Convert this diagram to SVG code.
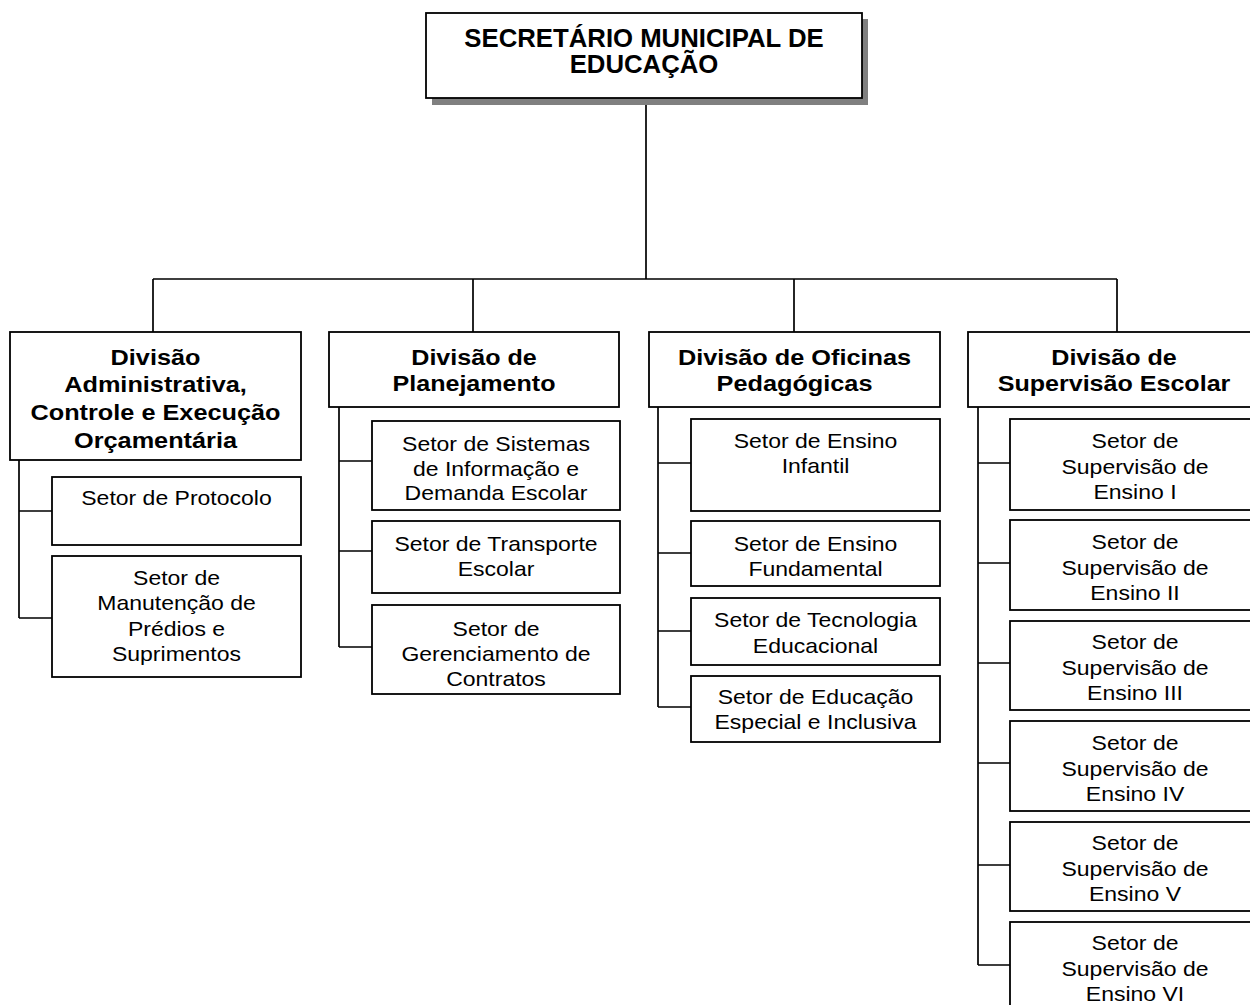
<svg xmlns="http://www.w3.org/2000/svg" width="1250" height="1005" viewBox="0 0 1250 1005">
<style>
.bx{fill:#fff;stroke:#000;stroke-width:1.8}
.sh{fill:#808080;stroke:none}
.ln{fill:none;stroke:#000;stroke-width:1.7}
text{font-family:"Liberation Sans",Arial,sans-serif;text-anchor:middle;fill:#000}
.top{font-size:25px;font-weight:bold}
.dv{font-size:22px;font-weight:bold}
.st{font-size:20px}
</style>
<rect width="1250" height="1005" fill="#fff"/>
<g id="connectors">
<path class="ln" d="M646 98V279M153 279H1117M153 279V332M473 279V332M794 279V332M1117 279V332"/>
<path class="ln" d="M19 460V618M19 511H52M19 618H52"/>
<path class="ln" d="M339 407V647M339 461H372M339 551H372M339 647H372"/>
<path class="ln" d="M658 407V707M658 463H691M658 553H691M658 631H691M658 707H691"/>
<path class="ln" d="M978 407V965M978 463H1010M978 563H1010M978 663H1010M978 763H1010M978 865H1010M978 965H1010"/>
</g>
<g id="secretario">
<rect class="sh" x="432" y="19" width="436" height="86"/>
<rect class="bx" x="426" y="13" width="436" height="85"/>
<g transform="translate(644,0) scale(1.03,1)"><text class="top"><tspan x="0" y="47">SECRETÁRIO MUNICIPAL DE</tspan><tspan x="0" y="73">EDUCAÇÃO</tspan></text></g>
</g>
<g id="div-admin">
<rect class="bx" x="10" y="332" width="291" height="128"/>
<g transform="translate(155.5,0) scale(1.15,1)"><text class="dv"><tspan x="0" y="365">Divisão</tspan><tspan x="0" y="392">Administrativa,</tspan><tspan x="0" y="420">Controle e Execução</tspan><tspan x="0" y="448">Orçamentária</tspan></text></g>
</g>
<g id="setor-protocolo">
<rect class="bx" x="52" y="477" width="249" height="68"/>
<g transform="translate(176.5,0) scale(1.15,1)"><text class="st"><tspan x="0" y="505">Setor de Protocolo</tspan></text></g>
</g>
<g id="setor-manutencao">
<rect class="bx" x="52" y="556" width="249" height="121"/>
<g transform="translate(176.5,0) scale(1.15,1)"><text class="st"><tspan x="0" y="585">Setor de</tspan><tspan x="0" y="610">Manutenção de</tspan><tspan x="0" y="636">Prédios e</tspan><tspan x="0" y="661">Suprimentos</tspan></text></g>
</g>
<g id="div-planejamento">
<rect class="bx" x="329" y="332" width="290" height="75"/>
<g transform="translate(474,0) scale(1.14,1)"><text class="dv"><tspan x="0" y="365">Divisão de</tspan><tspan x="0" y="391">Planejamento</tspan></text></g>
</g>
<g id="setor-sistemas">
<rect class="bx" x="372" y="421" width="248" height="89"/>
<g transform="translate(496,0) scale(1.15,1)"><text class="st"><tspan x="0" y="451">Setor de Sistemas</tspan><tspan x="0" y="476">de Informação e</tspan><tspan x="0" y="500">Demanda Escolar</tspan></text></g>
</g>
<g id="setor-transporte">
<rect class="bx" x="372" y="521" width="248" height="72"/>
<g transform="translate(496,0) scale(1.15,1)"><text class="st"><tspan x="0" y="551">Setor de Transporte</tspan><tspan x="0" y="576">Escolar</tspan></text></g>
</g>
<g id="setor-contratos">
<rect class="bx" x="372" y="605" width="248" height="89"/>
<g transform="translate(496,0) scale(1.15,1)"><text class="st"><tspan x="0" y="636">Setor de</tspan><tspan x="0" y="661">Gerenciamento de</tspan><tspan x="0" y="686">Contratos</tspan></text></g>
</g>
<g id="div-oficinas">
<rect class="bx" x="649" y="332" width="291" height="75"/>
<g transform="translate(794.5,0) scale(1.15,1)"><text class="dv"><tspan x="0" y="365">Divisão de Oficinas</tspan><tspan x="0" y="391">Pedagógicas</tspan></text></g>
</g>
<g id="setor-infantil">
<rect class="bx" x="691" y="419" width="249" height="92"/>
<g transform="translate(815.5,0) scale(1.15,1)"><text class="st"><tspan x="0" y="448">Setor de Ensino</tspan><tspan x="0" y="473">Infantil</tspan></text></g>
</g>
<g id="setor-fundamental">
<rect class="bx" x="691" y="521" width="249" height="65"/>
<g transform="translate(815.5,0) scale(1.15,1)"><text class="st"><tspan x="0" y="551">Setor de Ensino</tspan><tspan x="0" y="576">Fundamental</tspan></text></g>
</g>
<g id="setor-tecnologia">
<rect class="bx" x="691" y="598" width="249" height="67"/>
<g transform="translate(815.5,0) scale(1.15,1)"><text class="st"><tspan x="0" y="627">Setor de Tecnologia</tspan><tspan x="0" y="653">Educacional</tspan></text></g>
</g>
<g id="setor-especial">
<rect class="bx" x="691" y="676" width="249" height="66"/>
<g transform="translate(815.5,0) scale(1.15,1)"><text class="st"><tspan x="0" y="704">Setor de Educação</tspan><tspan x="0" y="729">Especial e Inclusiva</tspan></text></g>
</g>
<g id="div-supervisao">
<rect class="bx" x="968" y="332" width="292" height="75"/>
<g transform="translate(1114,0) scale(1.14,1)"><text class="dv"><tspan x="0" y="365">Divisão de</tspan><tspan x="0" y="391">Supervisão Escolar</tspan></text></g>
</g>
<g id="setor-ensino-1">
<rect class="bx" x="1010" y="419" width="250" height="91"/>
<g transform="translate(1135,0) scale(1.15,1)"><text class="st"><tspan x="0" y="448">Setor de</tspan><tspan x="0" y="474">Supervisão de</tspan><tspan x="0" y="499">Ensino I</tspan></text></g>
</g>
<g id="setor-ensino-2">
<rect class="bx" x="1010" y="520" width="250" height="90"/>
<g transform="translate(1135,0) scale(1.15,1)"><text class="st"><tspan x="0" y="549">Setor de</tspan><tspan x="0" y="575">Supervisão de</tspan><tspan x="0" y="600">Ensino II</tspan></text></g>
</g>
<g id="setor-ensino-3">
<rect class="bx" x="1010" y="621" width="250" height="89"/>
<g transform="translate(1135,0) scale(1.15,1)"><text class="st"><tspan x="0" y="649">Setor de</tspan><tspan x="0" y="675">Supervisão de</tspan><tspan x="0" y="700">Ensino III</tspan></text></g>
</g>
<g id="setor-ensino-4">
<rect class="bx" x="1010" y="721" width="250" height="90"/>
<g transform="translate(1135,0) scale(1.15,1)"><text class="st"><tspan x="0" y="750">Setor de</tspan><tspan x="0" y="776">Supervisão de</tspan><tspan x="0" y="801">Ensino IV</tspan></text></g>
</g>
<g id="setor-ensino-5">
<rect class="bx" x="1010" y="822" width="250" height="89"/>
<g transform="translate(1135,0) scale(1.15,1)"><text class="st"><tspan x="0" y="850">Setor de</tspan><tspan x="0" y="876">Supervisão de</tspan><tspan x="0" y="901">Ensino V</tspan></text></g>
</g>
<g id="setor-ensino-6">
<rect class="bx" x="1010" y="922" width="250" height="100"/>
<g transform="translate(1135,0) scale(1.15,1)"><text class="st"><tspan x="0" y="950">Setor de</tspan><tspan x="0" y="976">Supervisão de</tspan><tspan x="0" y="1001">Ensino VI</tspan></text></g>
</g>
</svg>
